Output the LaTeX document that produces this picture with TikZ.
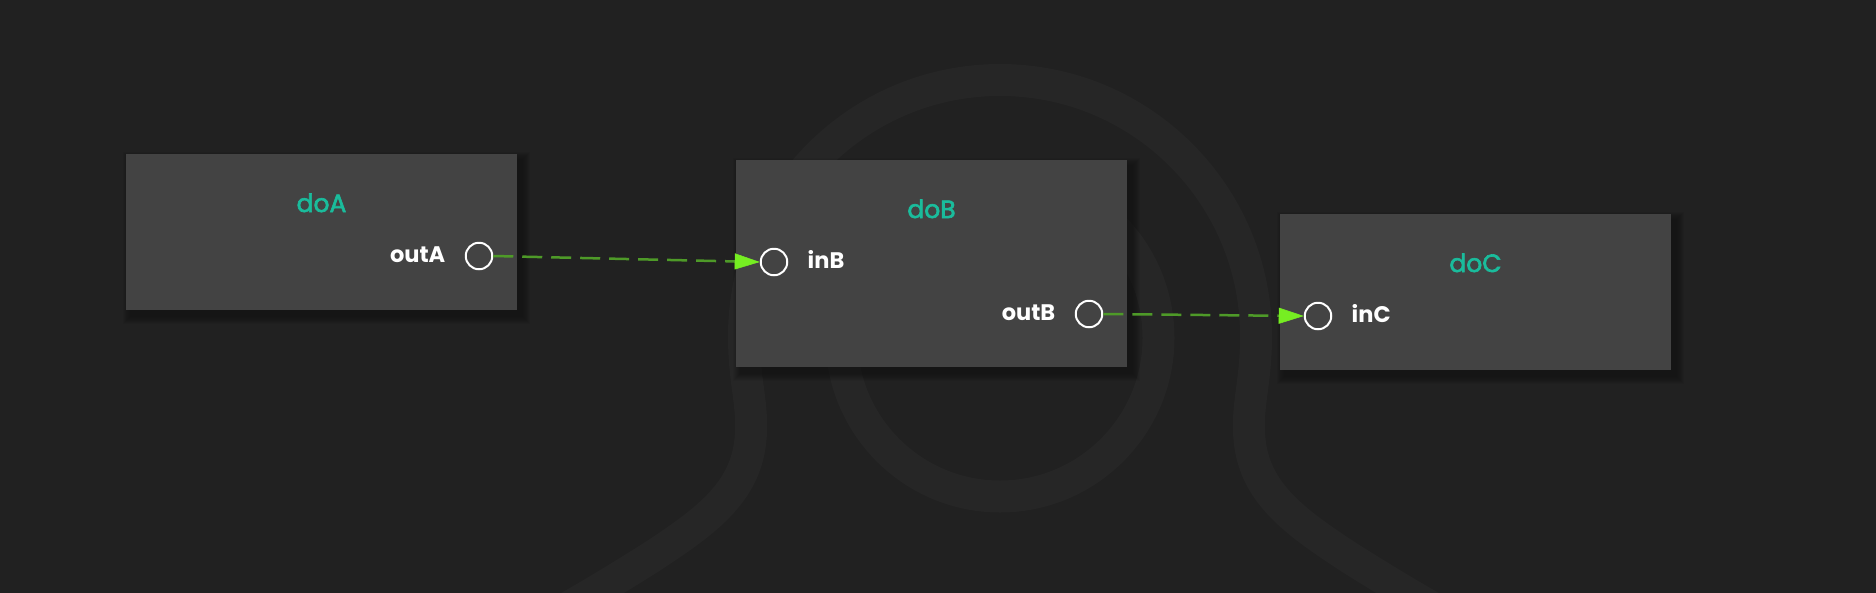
\documentclass[tikz,border=0pt]{standalone}
\usepackage{fontspec}
\setmainfont{Poppins}
\newfontfamily\titlefont[RawFeature={embolden=2.5}]{Poppins}
\usetikzlibrary{arrows.meta,calc}
\definecolor{bgc}{HTML}{212121}
\definecolor{bandc}{HTML}{262626}
\definecolor{boxc}{HTML}{434343}
\definecolor{titlec}{HTML}{1ABC9C}
\definecolor{linec}{HTML}{4E9A28}
\definecolor{tipc}{HTML}{76EE22}
\pgfdeclarelayer{bg}
\pgfdeclarelayer{shadow}
\pgfsetlayers{bg,shadow,main}
\begin{document}
\begin{tikzpicture}[x=1pt,y=-1pt,
  nodebox/.style={rectangle, fill=boxc, minimum width=391pt, inner sep=0pt, outer sep=0pt, anchor=north west},
  title/.style={text=titlec, font=\titlefont\fontsize{25}{30}\selectfont, anchor=base, inner sep=0pt},
  port/.style={circle, draw=white, line width=2pt, minimum size=26.5pt, inner sep=0pt},
  portlbl/.style={text=white, font=\bfseries\fontsize{22.5}{27}\selectfont, inner sep=0pt},
  link/.style={draw=linec, line width=2.5pt, dash pattern=on 20pt off 9pt, -{Triangle[length=25pt,width=16pt,color=tipc,fill=tipc,line width=0.5pt]}},
  band/.style={draw=bandc, line width=32pt}]
\useasboundingbox (0,0) rectangle (1876,592);
\begin{pgfonlayer}{bg}
\fill[bgc] (-20,-20) rectangle (1896,612);
\draw[band] (1000,338) circle[radius=158.5];
\draw[band] (560,612) .. controls (585,598) and (615,580) .. (650,558) .. controls (708,520) and (750,490) .. (751,430) .. controls (752,400) and (744,380) .. (744,336) arc[start angle=180,end angle=360,radius=256] .. controls (1256,380) and (1248,400) .. (1249,430) .. controls (1250,490) and (1292,520) .. (1350,558) .. controls (1385,580) and (1415,598) .. (1440,612);
\end{pgfonlayer}

\node[nodebox, minimum height=156pt] (A) at (126,154) {};
\node[nodebox, minimum height=207pt] (B) at (736,160) {};
\node[nodebox, minimum height=156pt] (C) at (1280,214) {};

\begin{pgfonlayer}{shadow}
\foreach \n in {A,B,C}{\foreach \k in {1,...,8}{\fill[black,opacity=0.04] ($(\n.north west)+(5-\k,6-\k)$) rectangle ($(\n.south east)+(5+\k,6+\k)$);}}
\end{pgfonlayer}

\node[title] (tA) at ($(A.north)+(0,58)$) {doA};
\node[title] (tB) at ($(B.north)+(0,58)$) {doB};
\node[title] (tC) at ($(C.north)+(0,58)$) {doC};

\node[port] (oA) at ($(A.north east)+(-38,102)$) {};
\node[portlbl, anchor=base east] (loA) at ($(oA)+(-33.5,6.5)$) {outA};
\node[port] (iB) at ($(B.north west)+(38,102)$) {};
\node[portlbl, anchor=base west] (liB) at ($(iB)+(33.5,6.5)$) {inB};
\node[port] (oB) at ($(B.north east)+(-38,154)$) {};
\node[portlbl, anchor=base east] (loB) at ($(oB)+(-33.5,6.5)$) {outB};
\node[port] (iC) at ($(C.north west)+(38,102)$) {};
\node[portlbl, anchor=base west] (liC) at ($(iC)+(33.5,6.5)$) {inC};

\draw[link] (oA.east) -- (iB.west);
\draw[link] (oB.east) -- (iC.west);
\end{tikzpicture}
\end{document}
